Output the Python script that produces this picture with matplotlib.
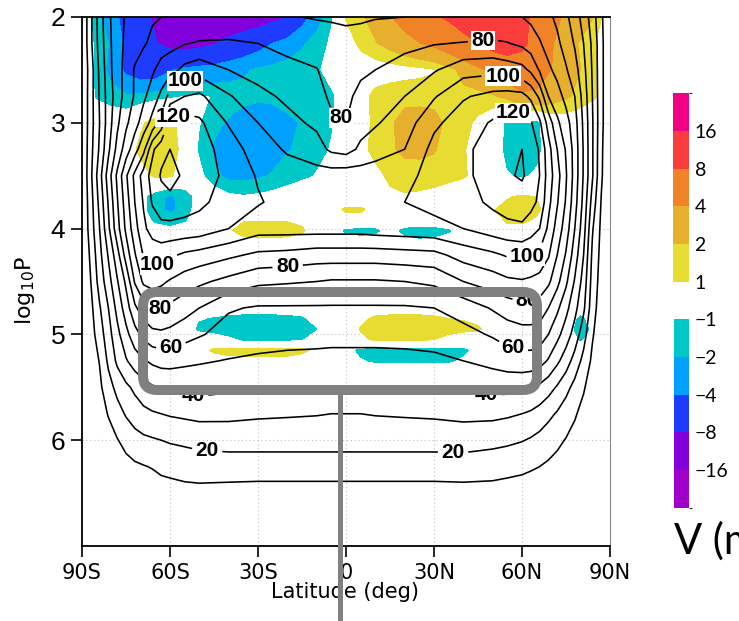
import numpy as np
import matplotlib
matplotlib.use("Agg")
import matplotlib.pyplot as plt
from matplotlib.colors import ListedColormap, BoundaryNorm
from matplotlib.cm import ScalarMappable
from matplotlib.patches import FancyBboxPatch
from matplotlib.lines import Line2D
from matplotlib.transforms import IdentityTransform

# zonal-mean wind (line contours), rows = log10 P, columns = latitude
wind_lats = [-90, -87, -84, -81, -78, -75, -72, -69, -66, -63, -60, -55, -50, -40, -30, -20, -10, -5, 0,
             5, 10, 20, 30, 40, 50, 55, 60, 63, 66, 69, 72, 75, 78, 81, 84, 87, 90]
wind_logp = [2.0, 2.25, 2.5, 2.75, 3.0, 3.25, 3.5, 3.75, 4.0, 4.25, 4.5, 4.75,
             5.0, 5.25, 5.5, 5.75, 6.0, 6.25, 6.5, 6.75, 7.0]
wind = [
    [0, 18, 35, 48, 56, 61, 64, 67, 69, 70, 70, 70.5, 71, 71.5, 71, 70.5, 69.5, 69.5, 69,
     69, 69.5, 70, 70.5, 71, 71, 71, 70, 68, 65, 62, 58, 52, 45, 36, 25, 12, 0],
    [0, 18, 34, 47, 56, 62, 66, 69, 72, 75, 77, 79.5, 81, 81.5, 80, 77, 74, 72, 72,
     73, 75, 77.5, 79.5, 80.5, 81.5, 80.5, 78, 75, 71, 66, 62, 56, 49, 40, 28, 13, 0],
    [0, 15.5, 32, 46, 56.5, 63, 71, 75, 78.5, 84, 86, 93, 96, 90, 86, 83, 80.5, 75, 75,
     78, 80, 84, 89, 96, 97, 95, 93, 88, 79, 72, 67, 61, 54, 43, 29, 13, 0],
    [0, 16, 31, 44.5, 55, 64, 71, 78, 85, 92, 104, 110, 112, 101, 93, 88, 84, 78, 77.5,
     83, 85, 90, 99, 109, 113, 114, 113, 108, 98, 80, 74, 67, 60, 46, 30, 13, 0],
    [0, 16, 30, 45, 58, 68, 76, 85, 93, 104, 124, 125, 122, 109, 100, 93, 88, 82, 80,
     86, 89, 95, 108, 115, 121, 124, 124, 121, 112, 96, 82, 74, 64, 48, 31, 13, 0],
    [0, 17, 31.5, 48, 63, 75, 86, 97, 118, 127, 130, 127, 124, 116, 104, 99, 94, 88, 86,
     92, 95, 100, 113, 118, 124, 129, 130, 126, 119, 104, 90, 79, 66, 49, 31, 12, 0],
    [0, 18, 36, 55, 72, 88.5, 102.5, 114.5, 124, 131, 134, 128, 124, 118, 109, 104, 104, 105, 106,
     105, 106, 106, 115, 118, 124, 129, 131, 127, 120, 105.5, 94, 81, 66, 49, 31, 11.5, 0],
    [0, 16, 33, 51, 69, 85, 100, 111, 121, 126, 127, 124, 122, 116, 111, 106, 106, 106, 107,
     106, 108, 110, 113, 116, 122, 125, 126, 123, 118, 103, 91, 79, 64, 47, 26, 9.5, 0],
    [0, 15, 30, 48, 66, 82, 96, 108, 114, 117, 117, 117, 116, 110, 104, 104, 104, 104, 104,
     104, 105, 106, 107, 110, 115, 117, 118, 115, 110, 98, 86, 75, 60, 44, 21, 8, 0],
    [0, 12, 27, 41, 56, 74, 89, 101, 104, 104, 102, 98, 96, 92, 88, 87, 85, 85, 85,
     85, 85, 86, 87, 94, 98, 101, 102, 100, 98, 91, 80, 69, 55, 40, 18, 7, 0],
    [0, 10, 24, 36, 49, 62, 81, 92, 94, 92, 89, 85, 82, 77, 72, 71, 70, 69, 69,
     69, 69, 70, 72, 80, 85, 88, 89, 88, 86, 82, 73, 62, 49, 36, 16, 6, 0],
    [0, 7.5, 19, 30, 43, 55, 68, 76, 80.5, 80.2, 78, 74, 70, 61, 59, 59, 59, 59, 59,
     59, 59, 59, 60, 64, 71, 75, 77, 77, 76, 70, 62, 53, 43, 32, 14, 5, 0],
    [0, 6, 15, 26, 37, 47, 56, 63, 67, 68, 67, 64, 61, 56, 54, 53, 53, 53, 53,
     53, 53, 53, 54, 57, 61, 64, 66, 66, 65, 60, 53, 45, 36, 24, 11, 4, 0],
    [0, 4.5, 10.5, 22, 32, 39, 45, 49, 52, 53.5, 53.5, 52, 51, 49.5, 48.5, 48, 47.5, 47, 47,
     47, 47, 47.5, 48, 50, 53, 55, 56, 56, 54, 49, 42, 35, 26, 17, 8, 3, 0],
    [0, 4, 8, 16, 23, 28, 32, 36, 39, 41, 42, 43, 43.5, 42, 41, 41, 40.5, 40, 40,
     40, 40.5, 41, 41.5, 42.5, 43, 43, 42.5, 41, 38, 34, 29, 23, 17, 11, 5, 2, 0],
    [0, 3, 6.5, 10.5, 16, 21, 25, 27.5, 29, 30, 31, 32, 33, 32.5, 31.5, 31, 30.5, 30, 30,
     30, 30.5, 31, 31.5, 32.5, 32.5, 31.5, 30, 28.5, 26, 22.5, 19, 15, 11, 7, 3.5, 1.5, 0],
    [0, 2, 4, 7, 9.5, 13, 16, 18, 19, 20, 21, 22, 23, 24, 24, 24, 24, 24, 24,
     24, 24, 24, 24, 24.5, 23, 22, 20.5, 19, 17, 14.5, 12, 9.5, 7, 4.5, 2.5, 1, 0],
    [0, 1, 2, 4, 5, 7, 8.5, 9.5, 10.5, 12, 13, 14, 15, 15, 15, 15, 15, 15, 15,
     15, 15, 15, 15, 15, 14, 13, 12, 11, 10, 8.5, 7, 5.5, 4, 3, 2, 1, 0],
    [0, 1, 1, 2, 3, 3, 4, 5, 5, 6, 6, 7, 7, 6.5, 6, 6, 6, 6, 6,
     6, 6, 6, 6, 6.5, 6.5, 6, 5.5, 5, 4.5, 4, 3.5, 3, 2, 1.5, 1, 0.5, 0],
    [0, 0.5, 0.5, 1, 1, 1, 1.5, 1.5, 2, 2, 2, 2, 2, 2, 2, 2, 2, 2, 2,
     2, 2, 2, 2, 2, 2, 2, 2, 1.5, 1.5, 1, 1, 1, 1, 0.5, 0.5, 0, 0],
    [0, 0, 0, 0, 0, 0.5, 0.5, 0.5, 0.5, 1, 1, 1, 1, 1, 1, 1, 1, 1, 1,
     1, 1, 1, 1, 1, 1, 1, 1, 0.5, 0.5, 0.5, 0.5, 0.5, 0, 0, 0, 0, 0],
]

# meridional wind anomaly (shading), rows = log10 P, columns every 5 deg
v_lats = [-90, -85, -80, -75, -70, -65, -60, -55, -50, -45, -40, -35, -30, -25, -20, -15, -10, -5, 0,
          5, 10, 15, 20, 25, 30, 35, 40, 45, 50, 55, 60, 65, 70, 75, 80, 85, 90]
v_logp = [2.0, 2.25, 2.5, 2.75, 3.0, 3.25, 3.5, 3.7, 3.82, 3.92, 4.02, 4.12,
          4.35, 4.7, 4.85, 4.95, 5.05, 5.15, 5.25, 5.4]
v_anom = [
    [0, -1.5, -3, -5, -7, -8.5, -10, -12, -12, -11.5, -11, -10.5, -10, -9, -8.1, -5, -2.8, -1.05, 1.1,
     1.8, 2.6, 3.8, 5, 6, 7.5, 8.5, 10, 11, 11.5, 11, 9, 7, 5, 3.5, 3.2, 1.8, 0],
    [0, -1.2, -2.2, -4.5, -6.5, -7.8, -9, -9.5, -9, -8.2, -7, -6, -5, -4, -3, -2.2, -1.4, -0.8, 0.3,
     1.3, 1.9, 2.5, 3.2, 3.9, 4.5, 5.5, 6.6, 7.9, 9.5, 10, 8.8, 6.5, 4.2, 2.8, 1.8, 1, 0],
    [0, -1.2, -2.5, -4.5, -5.5, -5.5, -4.2, -3.5, -3.2, -3, -2.6, -2.2, -1.8, -1.5, -1.4, -1.3, -1.1, -0.6, 0,
     0.2, 0.4, 0.5, 0.6, 0.7, 0.9, 1.5, 2.5, 3.5, 4.5, 5.5, 6, 5.3, 4, 2.8, 2, 1.2, 0],
    [0, -1.1, -1.5, -1.8, -1.6, -1.3, -1.1, -0.9, -0.8, -1.05, -1.3, -1.6, -1.8, -1.7, -1.5, -1.3, -1.15, -1.1, -0.5,
     0.6, 1.3, 1.5, 1.6, 1.6, 1.6, 1.6, 1.6, 1.5, 1.8, 2.4, 3.6, 3.5, 2.8, 2.2, 1.6, 1.1, 0],
    [0, 0, 0, 0, 0.8, 1.5, 1.3, 0.5, -0.9, -1.6, -2.2, -2.6, -2.8, -2.7, -2.3, -1.9, -1.4, -1.05, -0.3,
     0.6, 1.2, 1.8, 2.5, 2.6, 2.4, 1.7, 1.3, 0.8, 0, -1.2, -1.5, -1.2, 0, 0.3, 0.2, 0, 0],
    [0, 0, 0, 0.3, 1.3, 1.8, 1.5, 0.6, -1.1, -2.2, -2.6, -2.8, -2.7, -2.4, -2.1, -1.7, -1.3, -0.9, -0.3,
     0.7, 1.3, 1.8, 2.3, 2.3, 2.1, 1.5, 1.1, 0.5, -0.2, -1.3, -1.6, -1.3, -0.2, 0, 0, 0, 0],
    [0, 0, 0, 0, 0.5, 1.2, 1.2, 0.3, -0.6, -1.6, -2.4, -2.4, -2.2, -1.9, -1.5, -1.2, -0.9, -0.4, 0,
     0.2, 0.7, 1.2, 1.4, 1.5, 1.5, 1.4, 1.15, 0.6, 0, -0.9, -1.1, -0.8, 0, 0, 0, 0, 0],
    [0, 0, 0, 0, -0.6, -1.5, -2.2, -1.6, -0.4, -0.2, -0.6, -0.8, -0.7, -0.5, -0.3, 0, 0, 0, 0,
     0, 0.2, 0.8, 0.9, 0.8, 0.6, 0.2, 0, 0, 0.3, 0.9, 1.2, 1.0, 0.2, 0, 0, 0, 0],
    [0, 0, 0, 0, -0.5, -1.6, -2.3, -1.5, -0.3, 0, 0, 0, 0, 0, 0, 0, 0, 0.3, 1.25,
     1.25, 0.4, 0.2, 0.3, 0.2, 0, 0, 0, 0.3, 0.9, 1.4, 1.6, 1.3, 0.2, 0, 0, 0, 0],
    [0, 0, 0, 0, -0.3, -1.2, -1.4, -1.1, -0.2, 0, 0.3, 0.9, 0.9, 0.9, 0.9, 0.7, 0.2, 0, 0.3,
     0.3, 0, 0, 0, 0, 0, 0, 0, 0, 0.4, 1.2, 1.3, 0.8, 0, 0, 0, 0, 0],
    [0, 0, 0, 0, 0, -0.3, -0.6, -0.3, 0, 0.2, 0.8, 1.5, 1.6, 1.6, 1.5, 1.2, 0.3, 0, -1.2,
     -1.3, -1.2, -0.5, -1.3, -1.5, -1.4, -1.1, -0.3, 0, 0.2, 0.6, 0.4, 0, 0, 0, 0, 0, 0],
    [0, 0, 0, 0, 0, 0, 0, 0, 0, 0, 0.3, 0.6, 0.7, 0.7, 0.6, 0.4, 0, 0, -0.5,
     -0.6, -0.5, -0.2, -0.6, -0.8, -0.7, -0.5, 0, 0, 0, 0, 0, 0, 0, 0, 0, 0, 0],
    [0] * 37,
    [0] * 37,
    [0, 0, 0, 0, 0, 0, 0, 0, -0.9, -1.05, -1.2, -1.3, -1.3, -1.3, -1.25, -1.1, -0.6, 0, 0,
     0.7, 1.2, 1.3, 1.3, 1.3, 1.2, 1.0, 0.9, 0.6, 0, 0, 0, 0, 0, -0.3, -1.2, -0.3, 0],
    [0, 0, 0, 0, 0, 0, 0, -0.3, -1.2, -1.5, -1.7, -1.8, -1.8, -1.8, -1.8, -1.6, -1.0, -0.3, 0,
     1.1, 1.7, 1.9, 1.9, 1.8, 1.7, 1.5, 1.4, 1.2, 0.4, 0, 0, 0, 0, -0.4, -1.5, -0.6, 0],
    [0, 0, 0, 0, 0, 0, 0, 0, 0, 0, -0.6, -1.1, -1.2, -1.2, -1.1, -1.0, -0.6, 0, 0,
     0.7, 1.2, 1.3, 1.3, 1.2, 1.0, 0.5, 0, 0, 0, 0, 0, 0, 0, 0, -1.1, -0.3, 0],
    [0, 0, 0, 0, 0, 0, 0, 0, 0.5, 1.2, 1.4, 1.5, 1.5, 1.5, 1.5, 1.3, 0.7, 0, -0.6,
     -1.2, -1.4, -1.5, -1.5, -1.5, -1.5, -1.4, -1.2, -0.6, 0, 0, 0, 0, 0, 0, 0, 0, 0],
    [0, 0, 0, 0, 0, 0, 0, 0, 0, 0.4, 0.6, 0.6, 0.6, 0.6, 0.6, 0.4, 0, 0, 0,
     -0.9, -1.1, -1.1, -1.1, -1.1, -1.1, -1.1, -0.8, 0, 0, 0, 0, 0, 0, 0, 0, 0, 0],
    [0] * 37,
]

shade_levels = [-99, -16, -8, -4, -2, -1, 1, 2, 4, 8, 16, 99]
neg_colors = ["#a000c8", "#8200dc", "#1e3cff", "#00a0ff", "#00c8c8"]
pos_colors = ["#e6dc32", "#e6af2d", "#f08228", "#fa3c3c", "#f00082"]

wind_levels = np.arange(10, 140, 10)
lat_ticks = [-90, -60, -30, 0, 30, 60, 90]
lat_labels = ["90S", "60S", "30S", "0", "30N", "60N", "90N"]
logp_ticks = [2, 3, 4, 5, 6]

# label anchor points (lat, log10 P)
label_spots = [(-55.6, 2.57), (-59, 2.93), (-3, 2.99), (46.7, 2.22), (53.5, 2.57), (57, 2.93),
               (-20, 4.33), (-64.4, 4.32), (-63.4, 4.74), (-59.3, 5.15), (-52, 5.57), (-47.4, 6.13),
               (62, 4.27), (61.7, 4.62), (57, 5.12), (48, 5.53), (36.5, 6.13)]

fig = plt.figure(figsize=(7.39, 6.21), dpi=100)
ax = fig.add_axes([82 / 739, 75 / 621, 528 / 739, 529 / 621])

VX, VY = np.meshgrid(v_lats, v_logp)
ax.contourf(VX, VY, np.array(v_anom), levels=shade_levels,
            colors=neg_colors + ["none"] + pos_colors, zorder=1)

WX, WY = np.meshgrid(wind_lats, wind_logp)
cs = ax.contour(WX, WY, np.array(wind), levels=wind_levels, colors="black",
                linewidths=1.15, zorder=3)

ax.set_xlim(-90, 90)
ax.set_ylim(7, 2)
ax.set_xticks(lat_ticks)
ax.set_xticklabels(lat_labels, fontsize=15, family="DejaVu Sans")
ax.set_yticks(logp_ticks)
ax.set_yticklabels([str(t) for t in logp_ticks], fontsize=19, family="Liberation Sans")
ax.tick_params(direction="out", length=8, width=1.2, pad=4)
ax.set_axisbelow(True)
ax.grid(True, linestyle=(0, (1, 2.5)), color="#c0c0c0", linewidth=0.8)
for side in ["left", "bottom", "top"]:
    ax.spines[side].set_linewidth(1.3)
ax.spines["right"].set_color("#888888")

labels = ax.clabel(cs, manual=label_spots, inline=True, inline_spacing=2, fmt="%d", fontsize=15)
for t in labels:
    t.set_rotation(0)
    t.set_fontweight("bold")
    t.set_family("Liberation Sans")
    t.set_bbox(dict(facecolor="white", edgecolor="none", pad=0.3))
    t.set_zorder(5)

fig.text(25 / 739, 1 - 290 / 621, "log$_{10}$P", rotation=90, ha="center", va="center", fontsize=16)
fig.text(345 / 739, 1 - 592 / 621, "Latitude (deg)", ha="center", va="center", fontsize=15)

# split colour bar: positive part on top, negative part below
cax_pos = fig.add_axes([673 / 739, (621 - 282) / 621, 16 / 739, 189 / 621])
cmap_pos = ListedColormap(pos_colors)
cb_pos = fig.colorbar(ScalarMappable(norm=BoundaryNorm([1, 2, 4, 8, 16, 32], 5), cmap=cmap_pos),
                      cax=cax_pos, spacing="uniform", ticks=[1, 2, 4, 8, 16])
cb_pos.set_ticklabels(["1", "2", "4", "8", "16"])

cax_neg = fig.add_axes([674 / 739, (621 - 508) / 621, 15 / 739, 189 / 621])
cmap_neg = ListedColormap(neg_colors)
cb_neg = fig.colorbar(ScalarMappable(norm=BoundaryNorm([-32, -16, -8, -4, -2, -1], 5), cmap=cmap_neg),
                      cax=cax_neg, spacing="uniform", ticks=[-16, -8, -4, -2, -1])
cb_neg.set_ticklabels(["\u221216", "\u22128", "\u22124", "\u22122", "\u22121"])

for cb in (cb_pos, cb_neg):
    cb.outline.set_visible(False)
    cb.ax.tick_params(length=0, pad=4)
    for t in cb.ax.get_yticklabels():
        t.set_fontsize(14)
        t.set_family("Lato")

fig.text(674 / 739, 1 - 541 / 621, "V (m/s)", ha="left", va="center", fontsize=30, family="Lato")

# highlight frame with pointer line
frame = FancyBboxPatch((143, 621 - 390), 394, 98, boxstyle="round,pad=0,rounding_size=14",
                       transform=IdentityTransform(), fill=False, edgecolor="#808080",
                       linewidth=7.2, zorder=10)
fig.add_artist(frame)
fig.add_artist(Line2D([340, 340], [0, 621 - 390], transform=IdentityTransform(),
                      color="#808080", linewidth=3.6, solid_capstyle="butt", zorder=10))

fig.savefig("out.png", dpi=100)
